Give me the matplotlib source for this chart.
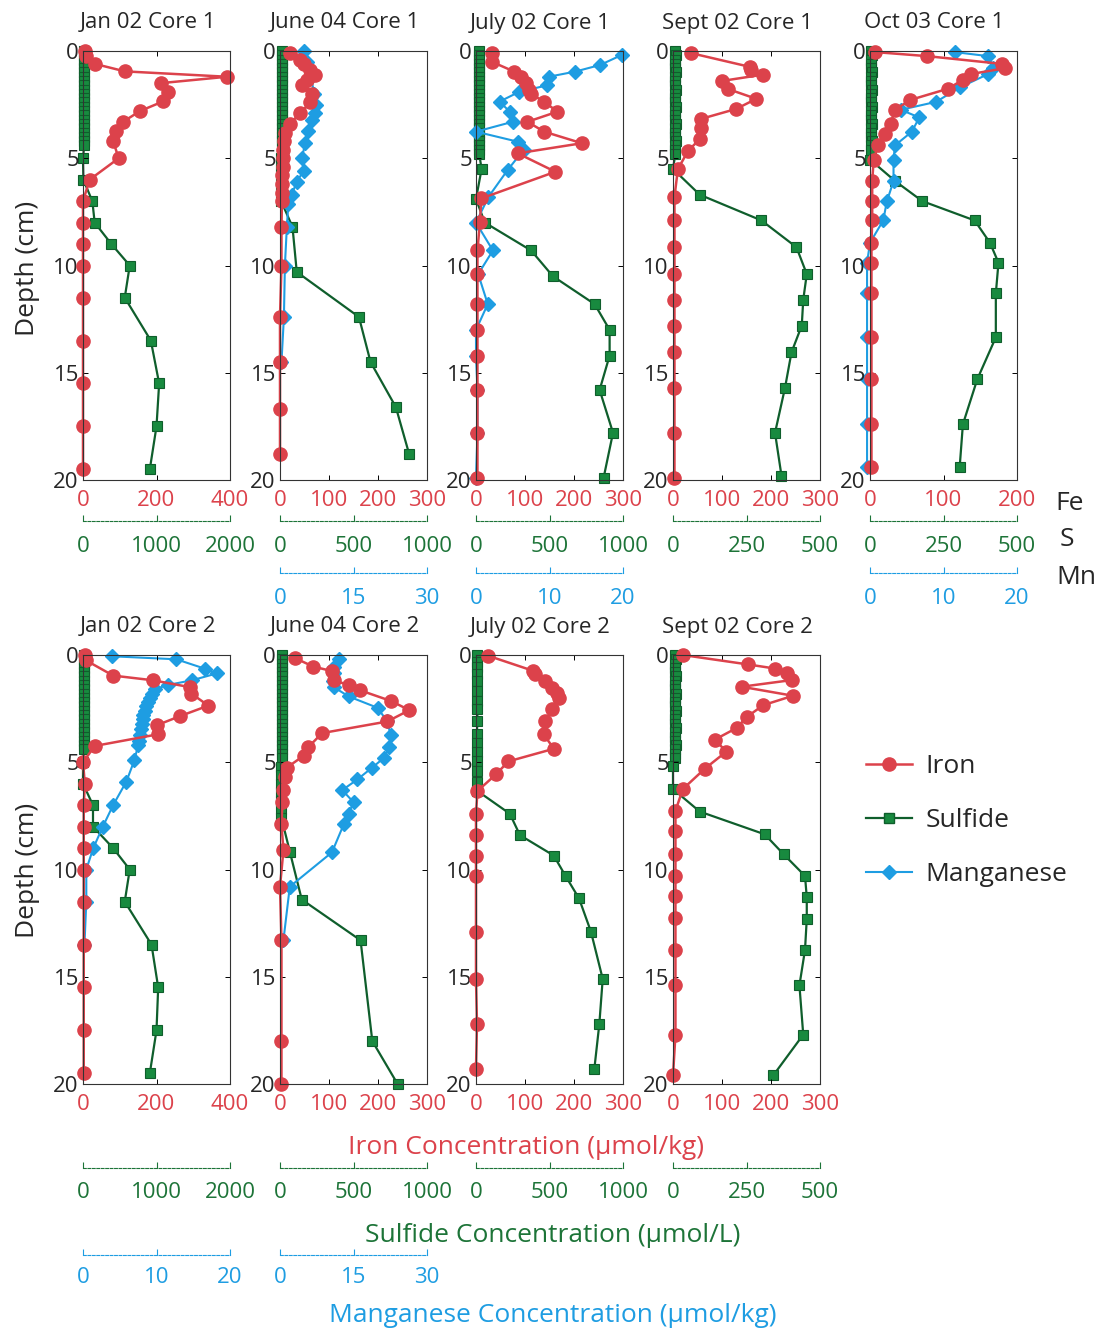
import matplotlib.pyplot as plt
from matplotlib.lines import Line2D

plt.rcParams["font.family"] = ["Open Sans", "DejaVu Sans"]

W, H = 1100, 1330
FE_C = "#dc424b"
S_C = "#188a3f"
S_LINE = "#0f5e2c"
S_TXT = "#1d7438"
MN_C = "#1e9de2"
INK = "#262626"

# depths of the closely spaced near-surface sulfide samples
col_44 = [0.0, 0.2, 0.4, 0.6, 0.8, 1.0, 1.2, 1.4, 1.6, 1.8, 2.0, 2.2, 2.4, 2.6, 2.8, 3.0,
          3.2, 3.4, 3.6, 3.8, 4.0, 4.2, 4.4]
col_48 = col_44 + [4.6, 4.8]

# ---- Jan 02 Core 1
a_fe_d = [0.0, 0.25, 0.6, 0.95, 1.2, 1.5, 1.9, 2.35, 2.8, 3.3, 3.75, 4.2, 5.0, 6.0, 7.0, 8.0,
          9.0, 10.0, 11.5, 13.5, 15.5, 17.5, 19.5]
a_fe = [5, 8, 32, 114, 392, 211, 232, 218, 155, 109, 91, 82, 97, 18, 0, 0, 0, 0, 0, 0, 0, 0, 0]
a_s_d = col_44 + [5.0, 6.0, 7.0, 8.0, 9.0, 10.0, 11.5, 13.5, 15.5, 17.5, 19.5]
a_s = [15, 15, 16, 15, 14, 15, 16, 15, 15, 14, 15, 15, 16, 15, 14, 15, 15, 16, 15, 14, 15, 15, 16,
       0, 5, 127, 159, 386, 636, 568, 923, 1036, 1000, 909]

# ---- June 04 Core 1
b_fe_d = [0.1, 0.4, 0.6, 0.9, 1.1, 1.35, 1.6, 2.0, 2.4, 2.9, 3.4, 3.8, 4.2, 4.6, 5.0, 5.4, 5.8,
          6.2, 6.6, 7.0, 8.2, 10.0, 12.4, 14.5, 16.7, 18.8]
b_fe = [20, 41, 48, 62, 72, 55, 45, 65, 62, 41, 20, 10, 8, 7, 6, 6, 5, 5, 5, 4, 3, 3, 0, 0, 0, 0]
b_s_d = col_44 + [5.0, 5.5, 6.0, 6.5, 7.0, 8.2, 10.3, 12.4, 14.5, 16.6, 18.8]
b_s = [12, 12, 13, 12, 11, 12, 13, 12, 12, 11, 12, 12, 13, 12, 11, 12, 12, 13, 12, 11, 12, 12, 13,
       8, 8, 8, 8, 8, 85, 114, 537, 616, 788, 879]
b_mn_d = [0.0, 0.5, 1.2, 2.0, 2.5, 2.9, 3.2, 3.75, 4.3, 5.0, 5.6, 6.1, 6.7, 7.15, 8.2, 10.0, 12.4, 14.5]
b_mn = [4.8, 5.5, 6.3, 7.0, 7.3, 7.2, 6.5, 5.8, 5.1, 4.5, 4.8, 3.4, 2.4, 1.7, 1.4, 1.0, 0.8, 0.3]

# ---- July 02 Core 1
c_fe_d = [0.1, 0.5, 0.96, 1.2, 1.5, 1.8, 2.0, 2.36, 2.83, 3.3, 3.76, 4.3, 4.77, 5.63, 6.87, 7.96,
          9.3, 10.4, 11.8, 13.0, 14.2, 15.8, 17.8, 19.9]
c_fe = [32, 32, 78, 92, 102, 109, 112, 139, 166, 105, 139, 216, 85, 162, 11, 8, 3, 3, 3, 3, 3, 3, 3, 3]
c_s_d = col_48 + [5.5, 6.9, 8.0, 9.3, 10.5, 11.8, 13.0, 14.2, 15.8, 17.8, 19.9]
c_s = [22, 21, 22, 23, 22, 21, 22, 23, 22, 21, 22, 23, 22, 21, 22, 23, 22, 21, 22, 23, 22, 21, 22,
       23, 22, 38, 0, 60, 375, 523, 807, 909, 909, 841, 932, 868]
c_mn_d = [0.19, 0.65, 0.96, 1.2, 1.6, 1.9, 2.36, 2.83, 3.3, 3.76, 4.23, 4.6, 5.55, 6.8, 8.0, 9.3,
          10.4, 11.8, 13.0, 14.2, 15.8, 17.8, 19.9]
c_mn = [19.8, 16.9, 13.5, 9.9, 9.7, 5.9, 3.2, 4.6, 5.0, 0.0, 5.7, 6.5, 4.3, 1.7, 0.0, 2.3, 0.3,
        1.6, 0.0, 0.0, 0.2, 0.2, 0.0]

# ---- Sept 02 Core 1
d_fe_d = [0.1, 0.74, 0.9, 1.1, 1.4, 1.77, 2.23, 2.7, 3.16, 3.6, 4.1, 4.65, 5.5, 6.8, 7.9, 9.15,
          10.4, 11.6, 12.8, 14.05, 15.7, 17.8, 19.9]
d_fe = [37, 157, 160, 184, 99, 112, 170, 129, 58, 58, 55, 31, 10, 3, 3, 3, 3, 3, 3, 3, 3, 3, 3]
d_s_d = col_48 + [5.5, 6.7, 7.9, 9.15, 10.4, 11.6, 12.8, 14.05, 15.7, 17.8, 19.8]
d_s = [8, 9, 8, 7, 8, 9, 8, 7, 8, 9, 8, 7, 8, 9, 8, 7, 8, 9, 8, 7, 8, 9, 8, 7, 8,
       0, 91, 301, 420, 455, 443, 438, 403, 381, 347, 369]

# ---- Oct 03 Core 1
e_fe_d = [0.05, 0.24, 0.6, 0.8, 1.07, 1.35, 1.76, 2.28, 2.74, 3.4, 3.85, 4.4, 5.06, 6.07, 7.0, 7.9,
          8.94, 9.87, 11.3, 13.35, 15.3, 17.4, 19.4]
e_fe = [7, 78, 179, 184, 138, 126, 106, 55, 34, 28, 21, 11, 5, 3, 3, 3, 2, 2, 2, 2, 2, 2, 2]
e_s_d = col_44 + [4.6, 5.06, 6.07, 7.0, 7.9, 8.94, 9.87, 11.3, 13.35, 15.3, 17.4, 19.4]
e_s = [5, 6, 5, 4, 5, 6, 5, 4, 5, 6, 5, 4, 5, 6, 5, 4, 5, 6, 5, 4, 5, 6, 5, 4,
       0, 86, 178, 356, 408, 437, 428, 428, 365, 316, 305]
e_mn_d = [0.05, 0.24, 0.8, 1.07, 1.7, 2.37, 2.74, 3.1, 3.76, 4.4, 5.06, 6.07, 7.0, 7.9, 8.94, 9.87,
          11.3, 13.35, 15.3, 17.4, 19.4]
e_mn = [11.5, 16.1, 16.8, 16.1, 12.2, 9.0, 4.2, 6.7, 5.7, 3.4, 3.2, 3.2, 2.3, 1.8, 0.0, -0.4,
        -0.4, -0.4, -0.4, -0.4, -0.4]

# ---- Jan 02 Core 2
f_fe_d = [0.0, 0.25, 0.96, 1.18, 1.5, 1.8, 2.36, 2.85, 3.28, 3.7, 4.24, 5.0, 6.0, 7.0, 8.0, 9.0,
          10.0, 11.5, 13.5, 15.5, 17.5, 19.5]
f_fe = [5, 8, 82, 191, 291, 295, 341, 264, 200, 203, 32, 0, 5, 2, 2, 2, 2, 2, 2, 2, 2, 2]
f_s_d = col_44 + [5.0, 6.0, 7.0, 8.0, 9.0, 10.0, 11.5, 13.5, 15.5, 17.5, 19.5]
f_s = [15, 16, 15, 14, 15, 16, 15, 14, 15, 16, 15, 14, 15, 16, 15, 14, 15, 16, 15, 14, 15, 16, 15,
       0, 0, 136, 136, 409, 636, 568, 932, 1023, 1000, 909]
f_mn_d = [0.06, 0.2, 0.64, 0.86, 1.18, 1.4, 1.6, 1.8, 2.0, 2.2, 2.4, 2.6, 2.8, 3.0, 3.2, 3.45,
          3.75, 4.0, 4.2, 4.9, 5.9, 7.0, 8.0, 9.0, 10.0, 11.5, 13.5]
f_mn = [4.0, 12.7, 16.6, 18.2, 14.8, 11.5, 9.8, 9.4, 9.1, 8.9, 8.6, 8.4, 8.2, 8.1, 8.0, 7.9, 7.7,
        7.6, 7.5, 7.0, 5.9, 4.1, 2.7, 1.4, 0.45, 0.45, 0.2]

# ---- June 04 Core 2
g_fe_d = [0.15, 0.54, 0.75, 1.18, 1.4, 1.65, 2.14, 2.57, 3.1, 3.64, 4.29, 4.7, 5.25, 5.7, 6.3,
          6.86, 7.9, 9.1, 10.8, 13.3, 18.0, 20.0]
g_fe = [31, 68, 106, 110, 140, 164, 226, 264, 219, 86, 58, 48, 14, 10, 7, 5, 3, 7, 0, 3, 3, 3]
g_s_d = col_48 + [5.2, 5.6, 6.0, 6.4, 6.8, 7.2, 7.6, 9.2, 11.4, 13.3, 18.0, 20.0]
g_s = [12, 13, 12, 11, 12, 13, 12, 11, 12, 13, 12, 11, 12, 13, 12, 11, 12, 13, 12, 11, 12, 13, 12,
       11, 12, 10, 10, 10, 10, 10, 10, 10, 68, 148, 548, 628, 800]
g_mn_d = [0.2, 0.55, 0.86, 1.2, 1.5, 1.93, 2.46, 3.1, 3.75, 4.29, 4.8, 5.25, 5.8, 6.3, 6.86, 7.4,
          7.9, 9.2, 10.8, 13.3]
g_mn = [12.0, 11.0, 11.0, 10.8, 11.0, 14.0, 19.9, 21.9, 22.6, 22.3, 21.2, 18.8, 15.8, 12.7, 15.0,
        14.0, 13.0, 10.6, 2.0, 0.7]

# ---- July 02 Core 2
h_fe_d = [0.03, 0.74, 0.9, 1.2, 1.52, 1.75, 2.0, 2.54, 3.1, 3.7, 4.37, 4.96, 5.56, 6.34, 7.4, 8.4,
          9.35, 10.3, 12.9, 15.1, 17.2, 19.3]
h_fe = [24, 117, 121, 141, 155, 166, 169, 155, 141, 138, 159, 66, 41, 3, 0, 0, 0, 0, 0, 0, 2, 0]
h_s_d = [0.0, 0.34, 0.58, 0.9, 1.2, 1.7, 2.15, 2.54, 3.1, 3.7, 4.1, 4.5, 4.96, 5.43, 5.9, 6.34,
         7.4, 8.4, 9.35, 10.3, 11.35, 12.9, 15.1, 17.2, 19.3]
h_s = [8, 5, 5, 5, 8, 8, 8, 8, 10, 5, 5, 5, 8, 8, 8, 10, 230, 299, 529, 609, 701, 782, 862, 839, 805]

# ---- Sept 02 Core 2
i_fe_d = [0.0, 0.44, 0.63, 0.86, 1.17, 1.48, 1.9, 2.34, 2.9, 3.4, 3.95, 4.5, 5.3, 6.25, 7.27, 8.2,
          9.3, 10.3, 11.25, 12.27, 13.75, 15.4, 17.7, 19.6]
i_fe = [20, 153, 208, 232, 242, 140, 245, 184, 150, 130, 85, 109, 65, 20, 5, 5, 5, 5, 5, 5, 5, 5, 5, 0]
i_s_d = col_48 + [5.16, 6.25, 7.3, 8.36, 9.3, 10.3, 11.3, 12.3, 13.75, 15.4, 17.7, 19.6]
i_s = [8, 9, 8, 7, 8, 9, 8, 7, 8, 9, 8, 7, 8, 9, 8, 7, 8, 9, 8, 7, 8, 9, 8, 7, 8,
       0, 0, 91, 312, 377, 449, 455, 455, 449, 430, 443, 341]

PW, PH = 147, 429
LEFTS = [83, 280, 476, 673, 870]
TOPS = [51, 655]
TICK_FS = 16
LABEL_FS = 19

fig = plt.figure(figsize=(11, 13.3), dpi=100)


def panel(left, top, title, fe_max, fe_ticks, s_max, fe_d, fe, s_d, s,
          mn_max=None, mn_d=None, mn=None):
    ax = fig.add_axes([left / W, 1 - (top + PH) / H, PW / W, PH / H])
    axs = ax.twiny()
    axs.set_xlim(0, s_max)
    axs.plot(s, s_d, "-s", color=S_LINE, mfc=S_C, mec=S_LINE, ms=7, lw=1.6,
             mew=0.8, clip_on=False)
    axs.axis("off")
    axs.set_zorder(1)
    if mn is not None:
        axm = ax.twiny()
        axm.set_xlim(0, mn_max)
        axm.plot(mn, mn_d, "-D", color=MN_C, ms=7.5, lw=1.5, clip_on=False)
        axm.axis("off")
        axm.set_zorder(2)
    ax.plot(fe, fe_d, "-o", color=FE_C, ms=9.5, lw=1.8, clip_on=False)
    ax.set_zorder(3)
    ax.patch.set_visible(False)
    ax.set_xlim(0, fe_max)
    ax.set_ylim(20, 0)
    ax.set_xticks(fe_ticks)
    ax.set_yticks([0, 5, 10, 15, 20])
    ax.tick_params(direction="in", top=True, right=True, bottom=True, left=True,
                   length=3.5, width=0.7, labelsize=TICK_FS, labeltop=False, labelright=False)
    ax.tick_params(axis="x", labelcolor=FE_C, pad=7.5)
    ax.tick_params(axis="y", labelcolor=INK, pad=3)
    for sp in ax.spines.values():
        sp.set_linewidth(0.8)
        sp.set_color("#333333")
    fig.text((left + PW / 2 - 9) / W, 1 - (top - 28) / H, title, ha="center",
             va="center", fontsize=16, color=INK)


def scale_bar(left, y, vmax, ticks, color, pad):
    sb = fig.add_axes([left / W, 1 - y / H, PW / W, 0.0001])
    sb.set_xlim(0, vmax)
    for side in ("left", "right", "top"):
        sb.spines[side].set_visible(False)
    sb.spines["bottom"].set_color(color)
    sb.spines["bottom"].set_linestyle((0, (2.5, 1.5)))
    sb.spines["bottom"].set_linewidth(0.8)
    sb.set_yticks([])
    sb.set_xticks(ticks)
    sb.tick_params(axis="x", direction="in", length=4, width=0.8, color=color,
                   labelcolor=color, labelsize=TICK_FS, pad=pad)
    sb.patch.set_visible(False)


# row 1
panel(LEFTS[0], TOPS[0], "Jan 02 Core 1", 400, [0, 200, 400], 2000, a_fe_d, a_fe, a_s_d, a_s)
panel(LEFTS[1], TOPS[0], "June 04 Core 1", 300, [0, 100, 200, 300], 1000, b_fe_d, b_fe, b_s_d, b_s,
      30, b_mn_d, b_mn)
panel(LEFTS[2], TOPS[0], "July 02 Core 1", 300, [0, 100, 200, 300], 1000, c_fe_d, c_fe, c_s_d, c_s,
      20, c_mn_d, c_mn)
panel(LEFTS[3], TOPS[0], "Sept 02 Core 1", 300, [0, 100, 200, 300], 500, d_fe_d, d_fe, d_s_d, d_s)
panel(LEFTS[4], TOPS[0], "Oct 03 Core 1", 200, [0, 100, 200], 500, e_fe_d, e_fe, e_s_d, e_s,
      20, e_mn_d, e_mn)

scale_bar(LEFTS[0], 521, 2000, [0, 1000, 2000], S_TXT, 10.5)
scale_bar(LEFTS[1], 521, 1000, [0, 500, 1000], S_TXT, 10.5)
scale_bar(LEFTS[2], 521, 1000, [0, 500, 1000], S_TXT, 10.5)
scale_bar(LEFTS[3], 521, 500, [0, 250, 500], S_TXT, 10.5)
scale_bar(LEFTS[4], 521, 500, [0, 250, 500], S_TXT, 10.5)
scale_bar(LEFTS[1], 573, 30, [0, 15, 30], MN_C, 10.5)
scale_bar(LEFTS[2], 573, 20, [0, 10, 20], MN_C, 10.5)
scale_bar(LEFTS[4], 573, 20, [0, 10, 20], MN_C, 10.5)

# row 2
panel(LEFTS[0], TOPS[1], "Jan 02 Core 2", 400, [0, 200, 400], 2000, f_fe_d, f_fe, f_s_d, f_s,
      20, f_mn_d, f_mn)
panel(LEFTS[1], TOPS[1], "June 04 Core 2", 300, [0, 100, 200, 300], 1000, g_fe_d, g_fe, g_s_d, g_s,
      30, g_mn_d, g_mn)
panel(LEFTS[2], TOPS[1], "July 02 Core 2", 300, [0, 100, 200, 300], 1000, h_fe_d, h_fe, h_s_d, h_s)
panel(LEFTS[3], TOPS[1], "Sept 02 Core 2", 300, [0, 100, 200, 300], 500, i_fe_d, i_fe, i_s_d, i_s)

scale_bar(LEFTS[0], 1168, 2000, [0, 1000, 2000], S_TXT, 10)
scale_bar(LEFTS[1], 1168, 1000, [0, 500, 1000], S_TXT, 10)
scale_bar(LEFTS[2], 1168, 1000, [0, 500, 1000], S_TXT, 10)
scale_bar(LEFTS[3], 1168, 500, [0, 250, 500], S_TXT, 10)
scale_bar(LEFTS[0], 1255, 20, [0, 10, 20], MN_C, 8.5)
scale_bar(LEFTS[1], 1255, 30, [0, 15, 30], MN_C, 8.5)

# labels
fig.text(28 / W, 1 - 268 / H, "Depth (cm)", rotation=90, ha="center", va="center",
         fontsize=LABEL_FS, color=INK)
fig.text(28 / W, 1 - 870 / H, "Depth (cm)", rotation=90, ha="center", va="center",
         fontsize=LABEL_FS, color=INK)
fig.text(1070 / W, 1 - 503 / H, "Fe", ha="center", va="center", fontsize=LABEL_FS, color=INK)
fig.text(1067 / W, 1 - 540 / H, "S", ha="center", va="center", fontsize=LABEL_FS, color=INK)
fig.text(1076 / W, 1 - 577 / H, "Mn", ha="center", va="center", fontsize=LABEL_FS, color=INK)
fig.text(526 / W, 1 - 1147 / H, "Iron Concentration (µmol/kg)", ha="center", va="center",
         fontsize=LABEL_FS, color=FE_C)
fig.text(553 / W, 1 - 1235 / H, "Sulfide Concentration (µmol/L)", ha="center", va="center",
         fontsize=LABEL_FS, color=S_TXT)
fig.text(553 / W, 1 - 1315 / H, "Manganese Concentration (µmol/kg)", ha="center", va="center",
         fontsize=LABEL_FS, color=MN_C)

handles = [
    Line2D([], [], color=FE_C, marker="o", ms=9.5, lw=1.8),
    Line2D([], [], color=S_LINE, marker="s", mfc=S_C, mec=S_LINE, ms=7, lw=1.6),
    Line2D([], [], color=MN_C, marker="D", ms=7.5, lw=1.5),
]
fig.legend(handles, ["Iron", "Sulfide", "Manganese"], loc="upper left",
           bbox_to_anchor=(866 / W, 1 - 754 / H), frameon=False, fontsize=LABEL_FS,
           handlelength=1.75, handletextpad=0.5, labelspacing=1.1, borderpad=0,
           borderaxespad=0, labelcolor=INK)

fig.savefig("out.png", dpi=100)
